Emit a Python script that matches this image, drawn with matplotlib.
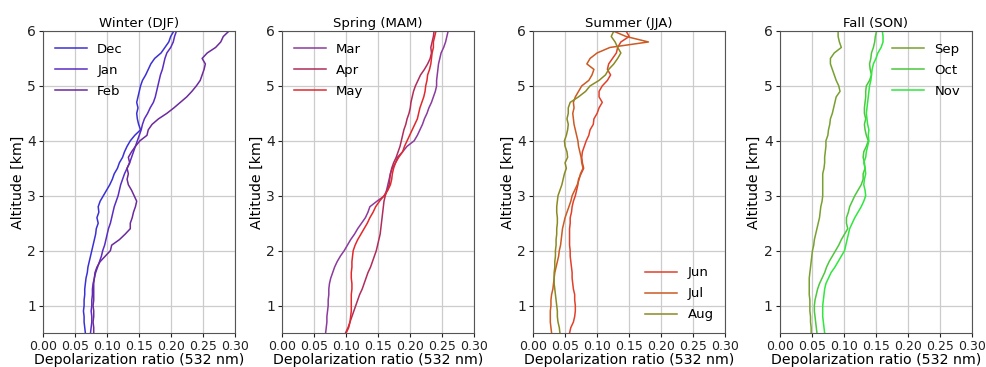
import numpy as np
import matplotlib
matplotlib.use("Agg")
import matplotlib.pyplot as plt

# altitude grid of the monthly mean profiles (km)
alt = np.round(np.arange(0.5, 6.01, 0.1), 1)

# monthly mean depolarization ratio profiles at 532 nm
dec = [0.066, 0.065, 0.064, 0.064, 0.063, 0.064, 0.064, 0.065, 0.065, 0.066,
       0.067, 0.069, 0.070, 0.072, 0.074, 0.076, 0.078, 0.080, 0.082, 0.083,
       0.086, 0.084, 0.087, 0.086, 0.089, 0.094, 0.099, 0.104, 0.108, 0.111,
       0.116, 0.119, 0.124, 0.127, 0.131, 0.136, 0.143, 0.152, 0.149, 0.147,
       0.146, 0.148, 0.146, 0.148, 0.150, 0.152, 0.155, 0.160, 0.164, 0.168,
       0.174, 0.184, 0.190, 0.196, 0.199, 0.204]
jan = [0.074, 0.075, 0.076, 0.076, 0.075, 0.076, 0.076, 0.077, 0.077, 0.078,
       0.080, 0.082, 0.085, 0.088, 0.091, 0.093, 0.096, 0.098, 0.100, 0.102,
       0.105, 0.107, 0.109, 0.111, 0.114, 0.117, 0.119, 0.121, 0.124, 0.127,
       0.131, 0.135, 0.138, 0.141, 0.144, 0.147, 0.150, 0.153, 0.155, 0.158,
       0.163, 0.167, 0.172, 0.175, 0.177, 0.179, 0.181, 0.183, 0.186, 0.188,
       0.190, 0.193, 0.199, 0.203, 0.205, 0.208]
feb = [0.079, 0.079, 0.078, 0.079, 0.079, 0.078, 0.079, 0.079, 0.079, 0.079,
       0.080, 0.081, 0.084, 0.089, 0.097, 0.105, 0.107, 0.119, 0.128, 0.136,
       0.136, 0.139, 0.141, 0.144, 0.146, 0.142, 0.138, 0.133, 0.131, 0.133,
       0.131, 0.135, 0.133, 0.138, 0.144, 0.151, 0.162, 0.164, 0.170, 0.180,
       0.193, 0.204, 0.214, 0.224, 0.232, 0.239, 0.245, 0.248, 0.251, 0.253,
       0.248, 0.256, 0.269, 0.277, 0.281, 0.290]
mar = [0.068, 0.069, 0.070, 0.070, 0.071, 0.072, 0.072, 0.073, 0.073, 0.074,
       0.076, 0.079, 0.082, 0.086, 0.091, 0.097, 0.102, 0.107, 0.113, 0.118,
       0.124, 0.130, 0.134, 0.137, 0.148, 0.160, 0.163, 0.165, 0.167, 0.169,
       0.172, 0.177, 0.180, 0.188, 0.195, 0.206, 0.211, 0.215, 0.219, 0.222,
       0.226, 0.229, 0.233, 0.236, 0.239, 0.241, 0.241, 0.242, 0.243, 0.244,
       0.246, 0.248, 0.252, 0.255, 0.257, 0.259]
apr = [0.099, 0.103, 0.106, 0.109, 0.112, 0.115, 0.118, 0.121, 0.125, 0.128,
       0.131, 0.134, 0.138, 0.141, 0.144, 0.147, 0.149, 0.151, 0.153, 0.154,
       0.155, 0.156, 0.157, 0.158, 0.159, 0.161, 0.164, 0.167, 0.168, 0.169,
       0.171, 0.174, 0.178, 0.181, 0.184, 0.186, 0.188, 0.190, 0.193, 0.195,
       0.198, 0.200, 0.201, 0.203, 0.205, 0.208, 0.212, 0.216, 0.222, 0.227,
       0.231, 0.233, 0.232, 0.234, 0.236, 0.237]
may = [0.100, 0.104, 0.106, 0.107, 0.108, 0.108, 0.108, 0.108, 0.109, 0.109,
       0.108, 0.108, 0.109, 0.109, 0.110, 0.111, 0.114, 0.118, 0.123, 0.128,
       0.133, 0.137, 0.142, 0.146, 0.152, 0.159, 0.165, 0.169, 0.171, 0.172,
       0.174, 0.177, 0.182, 0.188, 0.191, 0.195, 0.199, 0.203, 0.207, 0.211,
       0.213, 0.215, 0.218, 0.221, 0.223, 0.224, 0.226, 0.227, 0.230, 0.232,
       0.233, 0.234, 0.236, 0.236, 0.238, 0.240]
jun = [0.057, 0.059, 0.063, 0.065, 0.066, 0.066, 0.065, 0.065, 0.063, 0.062,
       0.061, 0.061, 0.060, 0.059, 0.058, 0.058, 0.057, 0.057, 0.057, 0.057,
       0.058, 0.058, 0.060, 0.061, 0.063, 0.066, 0.068, 0.070, 0.071, 0.075,
       0.079, 0.077, 0.076, 0.077, 0.080, 0.083, 0.087, 0.089, 0.094, 0.095,
       0.100, 0.103, 0.108, 0.103, 0.103, 0.108, 0.116, 0.121, 0.116, 0.118,
       0.124, 0.130, 0.132, 0.137, 0.150, 0.145]
jul = [0.029, 0.028, 0.027, 0.027, 0.027, 0.028, 0.028, 0.029, 0.031, 0.032,
       0.033, 0.034, 0.036, 0.038, 0.040, 0.041, 0.043, 0.044, 0.045, 0.046,
       0.048, 0.050, 0.053, 0.056, 0.059, 0.061, 0.065, 0.069, 0.072, 0.074,
       0.078, 0.076, 0.075, 0.073, 0.071, 0.070, 0.068, 0.066, 0.064, 0.063,
       0.062, 0.064, 0.063, 0.066, 0.071, 0.076, 0.087, 0.092, 0.095, 0.084,
       0.089, 0.100, 0.120, 0.180, 0.145, 0.125]
aug = [0.042, 0.041, 0.039, 0.038, 0.038, 0.037, 0.036, 0.035, 0.034, 0.033,
       0.033, 0.033, 0.034, 0.034, 0.035, 0.035, 0.036, 0.036, 0.037, 0.037,
       0.038, 0.038, 0.037, 0.037, 0.038, 0.039, 0.042, 0.045, 0.047, 0.049,
       0.052, 0.050, 0.054, 0.053, 0.050, 0.049, 0.052, 0.054, 0.055, 0.053,
       0.055, 0.055, 0.058, 0.071, 0.082, 0.089, 0.103, 0.113, 0.118, 0.126,
       0.132, 0.137, 0.132, 0.128, 0.122, 0.126]
sep = [0.049, 0.049, 0.048, 0.048, 0.047, 0.047, 0.047, 0.046, 0.046, 0.046,
       0.046, 0.047, 0.048, 0.049, 0.050, 0.051, 0.053, 0.054, 0.056, 0.058,
       0.060, 0.062, 0.063, 0.064, 0.066, 0.067, 0.067, 0.067, 0.067, 0.067,
       0.069, 0.070, 0.070, 0.071, 0.072, 0.072, 0.075, 0.076, 0.078, 0.079,
       0.082, 0.084, 0.086, 0.088, 0.094, 0.092, 0.088, 0.085, 0.082, 0.079,
       0.079, 0.085, 0.096, 0.093, 0.091, 0.091]
oct_ = [0.058, 0.057, 0.056, 0.055, 0.054, 0.054, 0.055, 0.057, 0.059, 0.062,
        0.066, 0.070, 0.073, 0.077, 0.082, 0.087, 0.092, 0.096, 0.101, 0.106,
        0.104, 0.104, 0.107, 0.109, 0.113, 0.117, 0.122, 0.127, 0.130, 0.130,
        0.133, 0.132, 0.130, 0.131, 0.135, 0.138, 0.135, 0.133, 0.132, 0.134,
        0.132, 0.132, 0.133, 0.134, 0.134, 0.135, 0.140, 0.143, 0.141, 0.140,
        0.142, 0.143, 0.146, 0.148, 0.149, 0.151]
nov = [0.070, 0.069, 0.068, 0.067, 0.067, 0.067, 0.068, 0.069, 0.070, 0.072,
       0.076, 0.080, 0.086, 0.091, 0.096, 0.101, 0.103, 0.105, 0.107, 0.109,
       0.113, 0.117, 0.122, 0.127, 0.131, 0.134, 0.133, 0.131, 0.132, 0.134,
       0.133, 0.131, 0.134, 0.135, 0.137, 0.139, 0.138, 0.139, 0.137, 0.136,
       0.135, 0.136, 0.137, 0.138, 0.139, 0.140, 0.142, 0.143, 0.144, 0.146,
       0.150, 0.153, 0.158, 0.161, 0.161, 0.160]

seasons = ["Winter (DJF)", "Spring (MAM)", "Summer (JJA)", "Fall (SON)"]
months = [["Dec", "Jan", "Feb"], ["Mar", "Apr", "May"],
          ["Jun", "Jul", "Aug"], ["Sep", "Oct", "Nov"]]
profiles = [[dec, jan, feb], [mar, apr, may], [jun, jul, aug], [sep, oct_, nov]]
colors = [["#3b30d6", "#5a2cc4", "#6c2a9c"],
          ["#8c3a9e", "#b02c5c", "#e2282c"],
          ["#e2402a", "#cc5a22", "#8a8a22"],
          ["#78a030", "#4cc83c", "#2ee83c"]]
legend_loc = ["upper left", "upper left", "lower right", "upper right"]
xticks = [0.0, 0.05, 0.10, 0.15, 0.20, 0.25, 0.30]

fig = plt.figure(figsize=(9.87, 3.67), dpi=100)
lefts = [0.0436, 0.2857, 0.540, 0.790]

for k in range(4):
    ax = fig.add_axes([lefts[k], 0.0926, 0.195, 0.823])
    for prof, lab, col in zip(profiles[k], months[k], colors[k]):
        ax.plot(prof, alt, color=col, lw=1.1, label=lab)
    ax.set_xlim(0, 0.3)
    ax.set_ylim(0.5, 6)
    ax.set_xticks(xticks)
    ax.set_xticklabels([f"{v:.2f}" for v in xticks])
    ax.set_yticks([1, 2, 3, 4, 5, 6])
    ax.tick_params(labelsize=9, length=3, pad=2, colors="#222222")
    ax.tick_params(axis="y", labelsize=10)
    ax.grid(color="#cccccc", linewidth=0.9)
    for s in ax.spines.values():
        s.set_color("#555555")
    ax.set_title(seasons[k], fontsize=9.5, pad=3)
    ax.set_xlabel("Depolarization ratio (532 nm)", fontsize=10.2, labelpad=0)
    ax.set_ylabel("Altitude [km]", fontsize=10.2, labelpad=2)
    ax.legend(loc=legend_loc[k], frameon=False, fontsize=9.5,
              handlelength=2.4, labelspacing=0.6)

fig.savefig("out.png", dpi=100)
